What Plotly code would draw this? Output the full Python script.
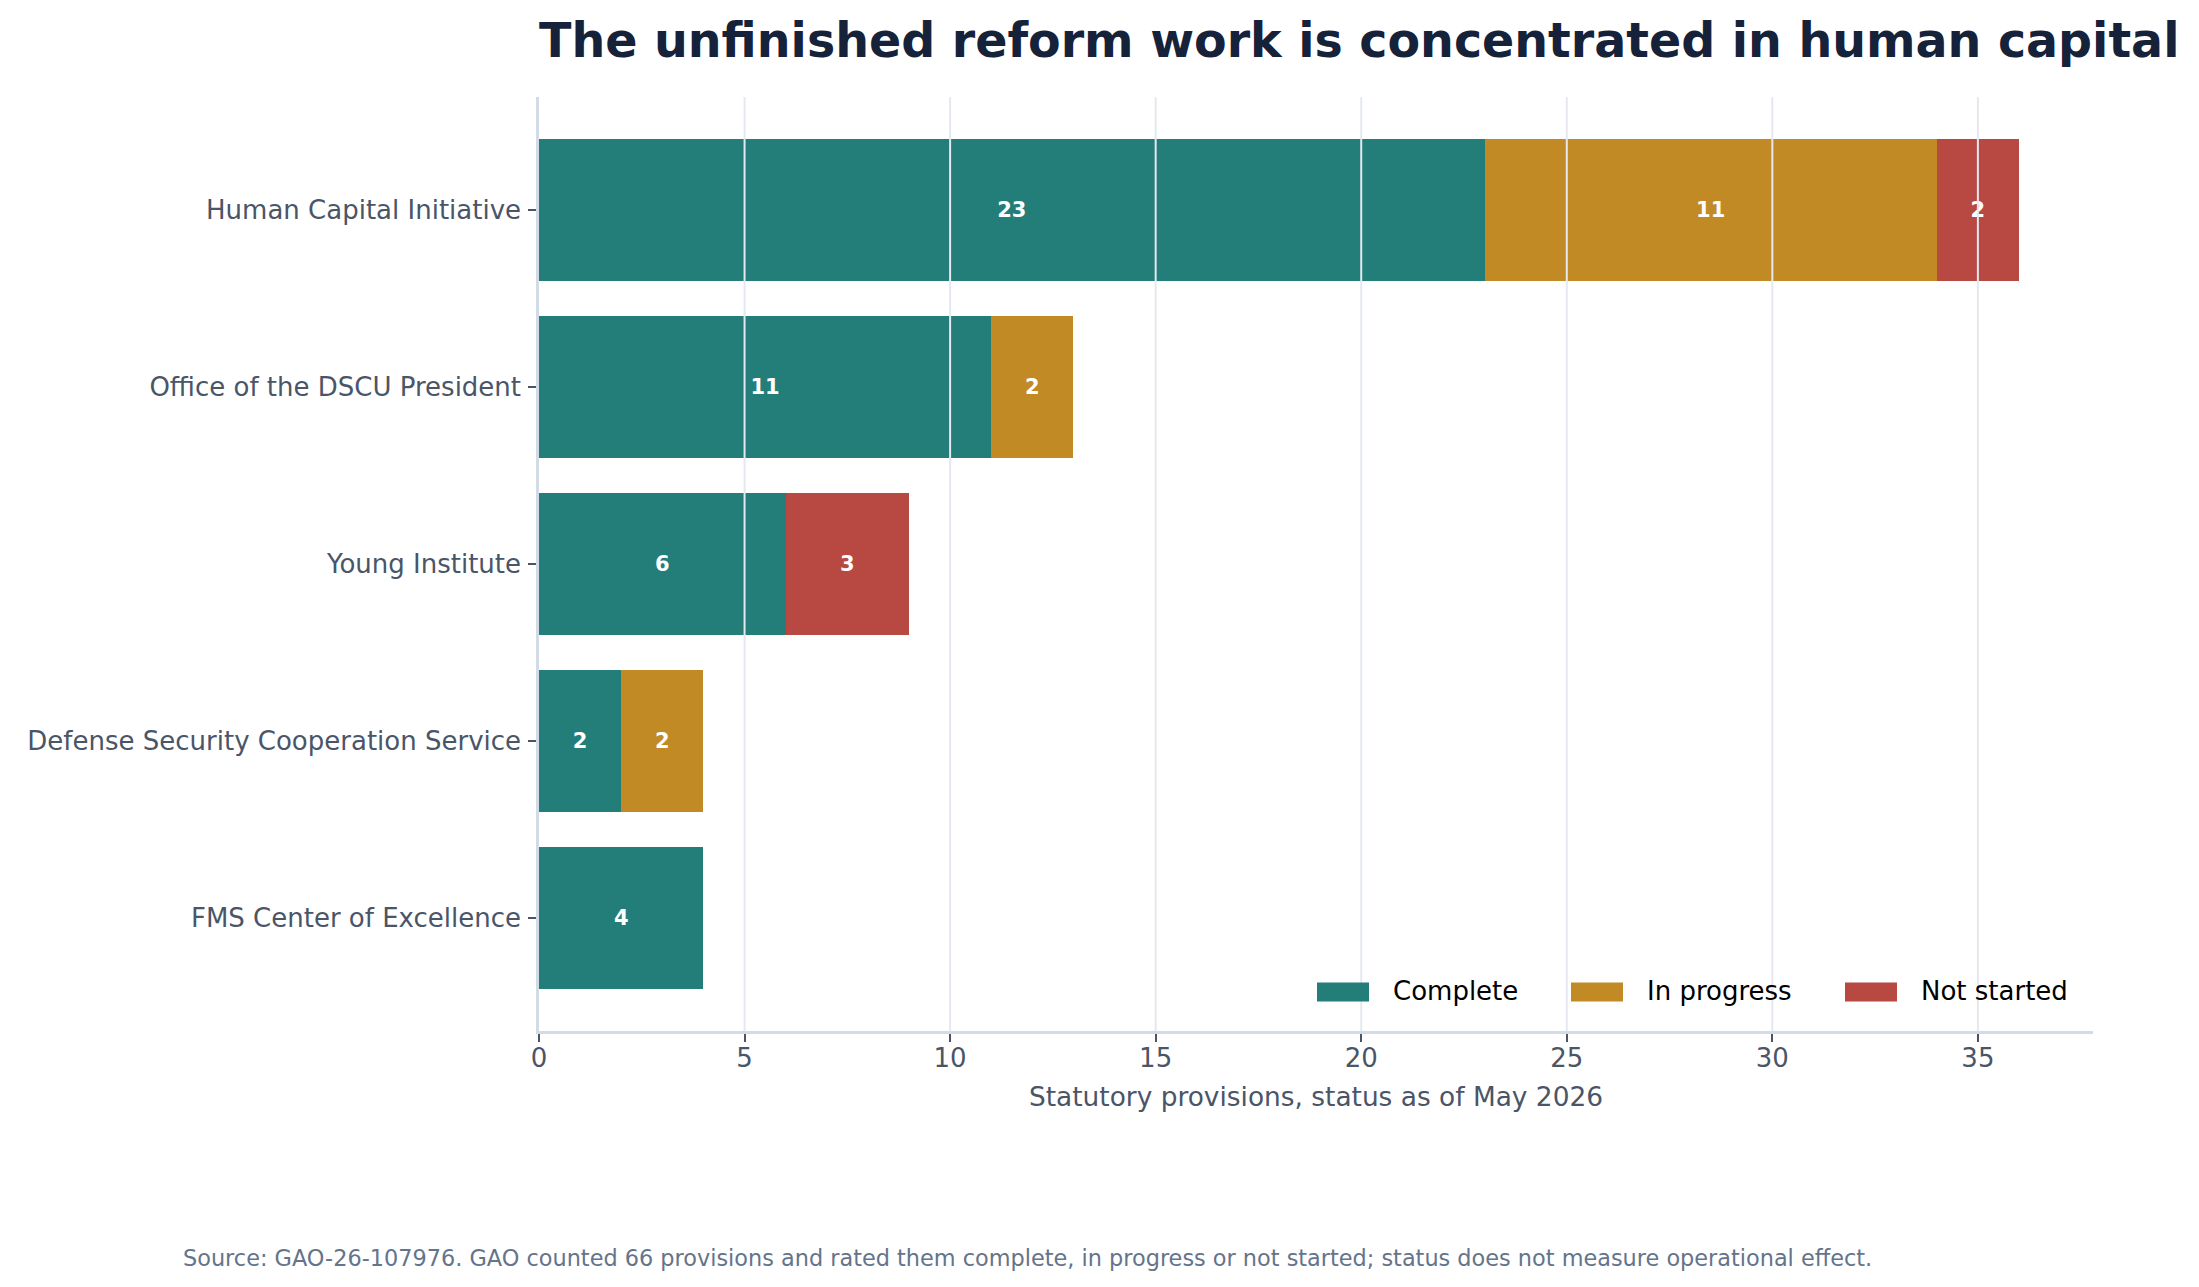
import plotly.graph_objects as go

# reform areas, top to bottom as shown
programs = [
    "Human Capital Initiative",
    "Office of the DSCU President",
    "Young Institute",
    "Defense Security Cooperation Service",
    "FMS Center of Excellence",
]
statuses = ["Complete", "In progress", "Not started"]
complete = [23, 11, 6, 2, 4]
in_progress = [11, 2, 0, 2, 0]
not_started = [2, 0, 3, 0, 0]
x_ticks = [0, 5, 10, 15, 20, 25, 30, 35]

colors = ["#237E7A", "#C28A25", "#B84842"]
font = "DejaVu Sans"
slate = "#4A5568"

# the page body adds an 8px margin, so work in page pixels and shift back
OFF = 8
W, H = 2199 - OFF, 1287 - OFF
L, R, T, B = 539 - OFF, 2093 - OFF, 97 - OFF, 1031 - OFF  # plot area


def px_x(px):
    return (px - OFF - L) / (R - L)


def px_y(py):
    return (B - (py - OFF)) / (B - T)


fig = go.Figure()

for name, vals, col in zip(statuses, [complete, in_progress, not_started], colors):
    fig.add_trace(go.Bar(
        y=programs,
        x=vals,
        name=name,
        orientation="h",
        width=0.8,
        marker=dict(color=col, line=dict(width=0)),
        text=[str(v) if v else "" for v in vals],
        textposition="inside",
        insidetextanchor="middle",
        textangle=0,
        textfont=dict(family=font, size=21, color="white", weight="bold"),
        showlegend=False,
    ))

# grid lines sit on top of the bars, like the original
shapes = []
for t in x_ticks[1:]:
    shapes.append(dict(type="line", xref="x", yref="paper", x0=t, x1=t, y0=0, y1=1,
                       line=dict(color="#E5E8EE", width=2), layer="above"))

# hand-made legend with wide patches
annotations = []
patch_left = [1317, 1571, 1845]
for name, col, px0 in zip(statuses, colors, patch_left):
    shapes.append(dict(type="rect", xref="paper", yref="paper",
                       x0=px_x(px0), x1=px_x(px0 + 52), y0=px_y(1001.5), y1=px_y(982.5),
                       fillcolor=col, line=dict(width=0), layer="above"))
    annotations.append(dict(xref="paper", yref="paper", x=px_x(px0 + 74), y=px_y(991),
                            xanchor="left", yanchor="middle", showarrow=False, text=name,
                            font=dict(family=font, size=26, color="#000000")))

annotations.append(dict(
    xref="paper", yref="paper", x=px_x(181), y=px_y(1258),
    xanchor="left", yanchor="middle", showarrow=False,
    text="Source: GAO-26-107976. GAO counted 66 provisions and rated them complete, "
         "in progress or not started; status does not measure operational effect.",
    font=dict(family=font, size=22.4, color="#64748B"),
))

fig.update_layout(
    width=W, height=H,
    barmode="stack",
    plot_bgcolor="white",
    paper_bgcolor="white",
    margin=dict(l=L, r=W - R, t=T, b=H - B, pad=0),
    title=dict(
        text="<b>The unfinished reform work is concentrated in human capital</b>",
        x=0, xref="paper", xanchor="left",
        y=1 - (40 - OFF) / H, yref="container", yanchor="middle",
        font=dict(family=font, size=47.5, color="#15223A"),
    ),
    shapes=shapes,
    annotations=annotations,
    showlegend=False,
)

fig.update_xaxes(
    range=[0, 37.8],
    tickvals=x_ticks,
    showgrid=False,
    zeroline=False,
    showline=True, linecolor="#D3DBE6", linewidth=2.5,
    ticks="outside", ticklen=8, tickwidth=2, tickcolor=slate,
    ticklabelstandoff=-6,
    tickfont=dict(family=font, size=26, color=slate),
    title=dict(text="Statutory provisions, status as of May 2026",
               font=dict(family=font, size=26.4, color=slate), standoff=16),
)

fig.update_yaxes(
    categoryorder="array",
    categoryarray=programs[::-1],
    range=[-0.64, 4.64],
    showgrid=False,
    zeroline=False,
    showline=True, linecolor="#D3DBE6", linewidth=2.5,
    ticks="outside", ticklen=8, tickwidth=2, tickcolor=slate,
    ticklabelstandoff=2,
    tickfont=dict(family=font, size=26, color=slate),
)

fig.write_html("out.html")
